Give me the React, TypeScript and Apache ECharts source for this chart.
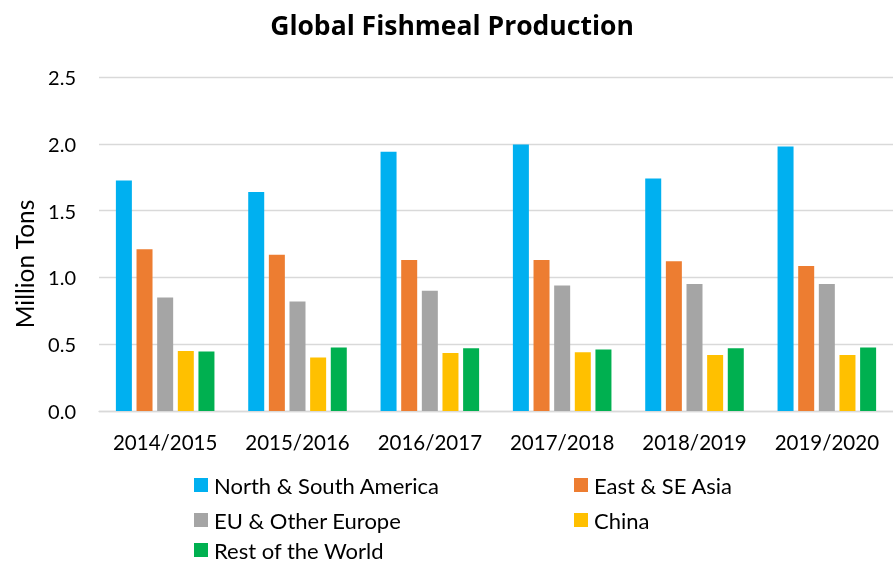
import React, { useEffect, useRef } from "react";
import * as echarts from "echarts";

const categories = ["2014/2015", "2015/2016", "2016/2017", "2017/2018", "2018/2019", "2019/2020"];
const seriesNames = ["North & South America", "East & SE Asia", "EU & Other Europe", "China", "Rest of the World"];
const northSouthAmerica = [1.725, 1.64, 1.94, 1.995, 1.74, 1.98];
const eastSEAsia = [1.21, 1.17, 1.13, 1.13, 1.12, 1.085];
const euOtherEurope = [0.85, 0.82, 0.9, 0.94, 0.95, 0.95];
const china = [0.45, 0.4, 0.435, 0.44, 0.42, 0.42];
const restOfWorld = [0.445, 0.475, 0.47, 0.46, 0.47, 0.475];
const colors = ["#00B0F0", "#ED7D31", "#A5A5A5", "#FFC000", "#00B050"];
const yTicks = [0, 0.5, 1.0, 1.5, 2.0, 2.5];

const FONT = "Lato, 'Noto Sans', sans-serif";
const TITLE_FONT = "'Open Sans', Lato, sans-serif";

export default function App() {
  const ref = useRef<HTMLDivElement>(null);
  useEffect(() => {
    if (!ref.current) return;
    const chart = echarts.init(ref.current, null, { renderer: "svg" });
    const values = [northSouthAmerica, eastSEAsia, euOtherEurope, china, restOfWorld];
    const legendPos = [
      { left: 194, top: 474 },
      { left: 574, top: 474 },
      { left: 194, top: 509 },
      { left: 574, top: 509 },
      { left: 194, top: 539 },
    ];
    chart.setOption({
      animation: false,
      graphic: [
        {
          type: "text",
          x: 452,
          y: 25,
          style: {
            text: "Global Fishmeal Production",
            font: `bold 26.5px ${TITLE_FONT}`,
            fill: "#000",
            textAlign: "center",
            textVerticalAlign: "middle",
          },
        },
        {
          type: "text",
          x: 24,
          y: 264,
          rotation: Math.PI / 2,
          style: {
            text: "Million Tons",
            font: `24.5px ${FONT}`,
            fill: "#000",
            textAlign: "center",
            textVerticalAlign: "middle",
          },
        },
      ],
      legend: seriesNames.map((name, i) => ({
        data: [name],
        left: legendPos[i].left,
        top: legendPos[i].top,
        padding: 0,
        itemWidth: 14,
        itemHeight: 14,
        icon: "rect",
        selectedMode: false,
        textStyle: { fontFamily: FONT, fontSize: 22, lineHeight: 20, color: "#000", padding: [0, 0, 0, 1] },
      })),
      grid: { left: 99, right: -10, top: 77, bottom: 153, containLabel: false },
      xAxis: {
        type: "category",
        data: categories,
        axisTick: { show: false },
        axisLine: { lineStyle: { color: "#D9D9D9", width: 1.3 } },
        axisLabel: { fontFamily: FONT, fontSize: 20.5, color: "#000", margin: 20, interval: 0 },
      },
      yAxis: {
        type: "value",
        min: yTicks[0],
        max: yTicks[yTicks.length - 1],
        interval: 0.5,
        axisLine: { show: false },
        axisTick: { show: false },
        splitLine: { lineStyle: { color: "#D9D9D9", width: 1.3 } },
        axisLabel: {
          fontFamily: FONT,
          fontSize: 20,
          color: "#000",
          margin: 23,
          formatter: (v: number) => v.toFixed(1),
        },
      },
      series: seriesNames.map((name, i) => ({
        name,
        type: "bar",
        data: values[i],
        barWidth: 16,
        barGap: "29%",
        itemStyle: { color: colors[i] },
      })),
    });
    return () => chart.dispose();
  }, []);
  return <div ref={ref} style={{ position: "fixed", left: 0, top: 0, width: 893, height: 564 }} />;
}
